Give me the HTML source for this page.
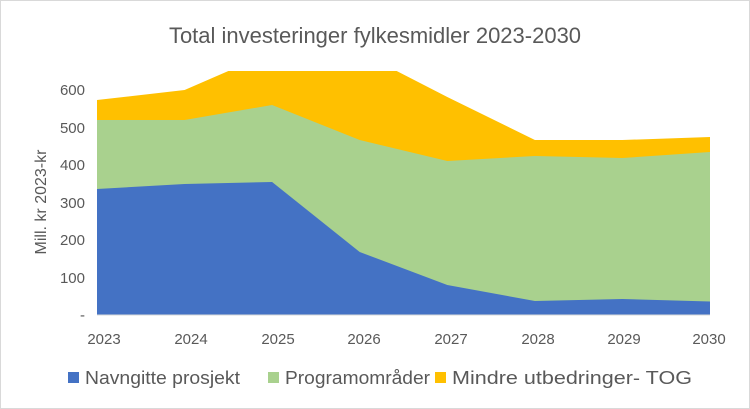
<!DOCTYPE html>
<html><head><meta charset="utf-8"><style>
body{margin:0;background:#fff}
svg{display:block;font-family:"Liberation Sans",sans-serif}
</style></head><body>
<svg width="750" height="409" viewBox="0 0 750 409">
<rect x="0.5" y="0.5" width="749" height="408" fill="#fff" stroke="#d9d9d9"/>
<text x="375" y="43" text-anchor="middle" font-size="22" fill="#595959">Total investeringer fylkesmidler 2023-2030</text>
<defs><clipPath id="c"><rect x="90" y="71" width="630" height="250"/></clipPath></defs>
<g clip-path="url(#c)">
<polygon fill="#ffc000" points="97,100 184.6,90 272.1,52 359.7,52 447.3,97 534.9,140 622.4,140 710,137 710,315 97,315"/>
<polygon fill="#a9d18e" points="97,120 184.6,120 272.1,105 359.7,140 447.3,161 534.9,156 622.4,158 710,152 710,315 97,315"/>
<polygon fill="#4472c4" points="97,189 184.6,184 272.1,182 359.7,252 447.3,285 534.9,301 622.4,299 710,301.5 710,315 97,315"/>
</g>
<line x1="97" y1="315" x2="710" y2="315" stroke="#d9d9d9"/>
<g font-size="15" fill="#595959" text-anchor="end">
<text x="85" y="95">600</text><text x="85" y="133">500</text><text x="85" y="170">400</text>
<text x="85" y="208">300</text><text x="85" y="245">200</text><text x="85" y="283">100</text><text x="85" y="320">-</text>
</g>
<g font-size="15" fill="#595959" text-anchor="middle">
<text x="104" y="344">2023</text><text x="191" y="344">2024</text><text x="278" y="344">2025</text><text x="364" y="344">2026</text>
<text x="451" y="344">2027</text><text x="538" y="344">2028</text><text x="624" y="344">2029</text><text x="709" y="344">2030</text>
</g>
<text transform="translate(46,202) rotate(-90)" text-anchor="middle" font-size="16" fill="#595959">Mill. kr 2023-kr</text>
<g font-size="18" fill="#595959">
<rect x="68" y="372" width="11" height="11" fill="#4472c4"/><text x="85" y="384" textLength="155" lengthAdjust="spacingAndGlyphs">Navngitte prosjekt</text>
<rect x="268" y="372" width="11" height="11" fill="#a9d18e"/><text x="285" y="384" textLength="145" lengthAdjust="spacingAndGlyphs">Programområder</text>
<rect x="435" y="372" width="11" height="11" fill="#ffc000"/><text x="452" y="384" textLength="240" lengthAdjust="spacingAndGlyphs">Mindre utbedringer- TOG</text>
</g>
</svg>
</body></html>
